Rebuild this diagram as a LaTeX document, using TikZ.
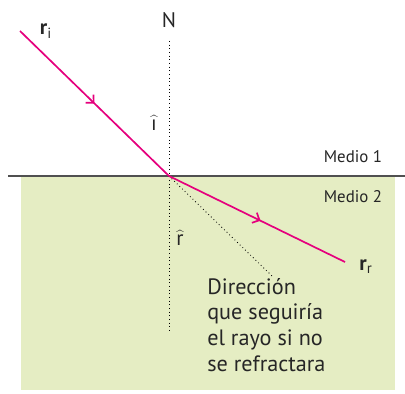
\documentclass[tikz,border=0pt]{standalone}
\usepackage{fontspec}
\setmainfont{PT Sans}
\usetikzlibrary{decorations.markings,arrows.meta}
\definecolor{raymagenta}{HTML}{E5007D}
\definecolor{mediumgreen}{HTML}{E5EDC3}
\definecolor{linegray}{HTML}{505050}

\begin{document}
\begin{tikzpicture}[x=0.025cm, y=-0.025cm,
    ray/.style={raymagenta, line width=1.2pt, postaction={decorate},
        decoration={markings, mark=at position #1 with {\arrow{Straight Barb[length=4pt,width=8pt]}}}},
    lbl/.style={inner sep=0, text=black!85, font=\fontsize{15}{18}\selectfont},
    guide/.style={dotted, line width=0.6pt}]
    \useasboundingbox (0,0) rectangle (405,393);

    % medios
    \fill[mediumgreen] (21,176) rectangle (395,390);
    \draw[linegray, line width=0.8pt] (8,176) -- (405,176);

    % puntos
    \coordinate (O) at (169,176);
    \coordinate (Ntop) at (169,41);
    \coordinate (Nbot) at (169,333);
    \coordinate (Istart) at (20,31);
    \coordinate (Rend) at (345,262);
    \coordinate (Dend) at (272,276);

    % normal y prolongacion
    \draw[guide] (Ntop) -- (Nbot);
    \draw[guide] (O) -- (Dend);

    % rayos
    \draw[ray=0.5] (Istart) -- (O);
    \draw[ray=0.52] (O) -- (Rend);

    % textos
    \node[lbl] (N) at (169,20) {N};
    \node[lbl] (ri) at (46,31) {\textbf{r}\textsubscript{i}};
    \node[lbl] (rr) at (366,267) {\textbf{r}\textsubscript{r}};
    \node[lbl] (inc) at (154,123) {$\widehat{\mbox{\i}}$};
    \node[lbl] (refr) at (180,238) {$\widehat{\mbox{r}}$};
    \node[lbl, font=\fontsize{12}{14}\selectfont] (m1) at (353,157) {Medio 1};
    \node[lbl, font=\fontsize{12}{14}\selectfont] (m2) at (353,197) {Medio 2};
    \node[lbl, anchor=north west, align=left, font=\fontsize{15.8}{18.2}\selectfont] (dir) at (207,278)
        {Dirección\\que seguiría\\el rayo si no\\se refractara};
\end{tikzpicture}
\end{document}
